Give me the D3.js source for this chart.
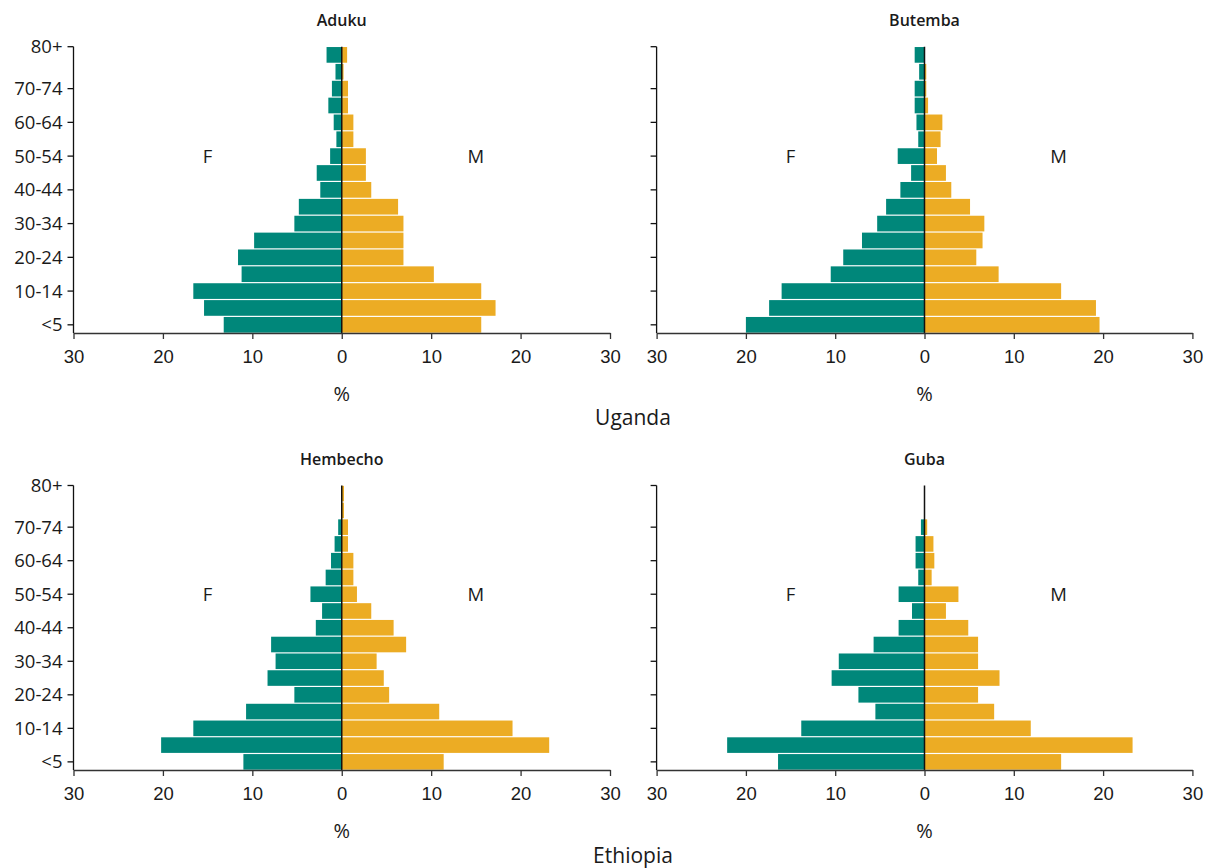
<!DOCTYPE html>
<html>
<head>
<meta charset="utf-8">
<script src="https://cdn.jsdelivr.net/npm/d3@7"></script>
<style>
  html, body { margin: 0; padding: 0; background: #fff; }
  svg { display: block; font-family: "Open Sans", "DejaVu Sans", sans-serif; }
</style>
</head>
<body>
<svg id="chart" width="1208" height="868"></svg>
<script>
// Age groups, bottom (<5) to top (80+)
const ages = ["<5","5-9","10-14","15-19","20-24","25-29","30-34","35-39","40-44","45-49","50-54","55-59","60-64","65-69","70-74","75-79","80+"];
const yTickLabels = ["<5","10-14","20-24","30-34","40-44","50-54","60-64","70-74","80+"];
const xTickValues = [-30,-20,-10,0,10,20,30];

// Percent of population, in age order <5 ... 80+
const adukuF    = [13.2,15.4,16.6,11.2,11.6,9.8,5.3,4.8,2.4,2.8,1.3,0.6,0.9,1.5,1.1,0.7,1.7];
const adukuM    = [15.6,17.2,15.6,10.3,6.9,6.9,6.9,6.3,3.3,2.7,2.7,1.3,1.3,0.7,0.7,0.2,0.6];
const butembaF  = [20.0,17.4,16.0,10.5,9.1,7.0,5.3,4.3,2.7,1.5,3.0,0.7,0.9,1.1,1.1,0.6,1.1];
const butembaM  = [19.6,19.2,15.3,8.3,5.8,6.5,6.7,5.1,3.0,2.4,1.4,1.8,2.0,0.4,0.2,0.2,0];
const hembechoF = [11.0,20.2,16.6,10.7,5.3,8.3,7.4,7.9,2.9,2.2,3.5,1.8,1.2,0.8,0.4,0,0];
const hembechoM = [11.4,23.2,19.1,10.9,5.3,4.7,3.9,7.2,5.8,3.3,1.7,1.3,1.3,0.7,0.7,0.25,0.25];
const gubaF     = [16.4,22.1,13.8,5.5,7.4,10.4,9.6,5.7,2.9,1.4,2.9,0.7,1.0,1.0,0.4,0,0];
const gubaM     = [15.3,23.3,11.9,7.8,6.0,8.4,6.0,6.0,4.9,2.4,3.8,0.8,1.1,1.0,0.3,0,0];

const panelTitles = ["Aduku","Butemba","Hembecho","Guba"];
const countries = ["Uganda","Ethiopia"];

const COLOR_F = "#00877a";
const COLOR_M = "#ecac24";
const TEXT = "#1a1a1a";

const svg = d3.select("#chart");

const panels = [
  { title: panelTitles[0], F: adukuF,    M: adukuM,    x0: 73.5,  x1: 610,    y0: 46.7,  y1: 333, labels: true },
  { title: panelTitles[1], F: butembaF,  M: butembaM,  x0: 656.6, x1: 1192.4, y0: 46.7,  y1: 333, labels: false },
  { title: panelTitles[2], F: hembechoF, M: hembechoM, x0: 73.5,  x1: 610,    y0: 485.5, y1: 770, labels: true },
  { title: panelTitles[3], F: gubaF,     M: gubaM,     x0: 656.6, x1: 1192.4, y0: 485.5, y1: 770, labels: false }
];

panels.forEach(p => {
  const g = svg.append("g");
  const x = d3.scaleLinear().domain([-30, 30]).range([p.x0, p.x1]);
  const y = d3.scaleBand().domain(ages.slice().reverse()).range([p.y0, p.y1]).paddingInner(0.07).paddingOuter(0.02);
  const bw = y.bandwidth();

  // bars
  const rows = ages.map((a, i) => ({ age: a, f: p.F[i], m: p.M[i] }));
  g.selectAll("rect.f").data(rows).join("rect")
    .attr("class", "f")
    .attr("x", d => x(-d.f))
    .attr("width", d => x(0) - x(-d.f))
    .attr("y", d => y(d.age))
    .attr("height", bw)
    .attr("fill", COLOR_F);
  g.selectAll("rect.m").data(rows).join("rect")
    .attr("class", "m")
    .attr("x", x(0))
    .attr("width", d => x(d.m) - x(0))
    .attr("y", d => y(d.age))
    .attr("height", bw)
    .attr("fill", COLOR_M);

  // zero line
  g.append("line")
    .attr("x1", x(0)).attr("x2", x(0))
    .attr("y1", p.y0).attr("y2", p.y1)
    .attr("stroke", "#111").attr("stroke-width", 1.5);

  // x axis
  const xAxis = d3.axisBottom(x).tickValues(xTickValues).tickFormat(d => Math.abs(d))
    .tickSize(6).tickSizeOuter(0).tickPadding(11);
  const xg = g.append("g").attr("transform", `translate(0,${p.y1})`).call(xAxis);
  xg.select(".domain").attr("stroke", "#333").attr("stroke-width", 1.3);
  xg.selectAll(".tick line").attr("stroke", "#333").attr("stroke-width", 1.3);
  xg.selectAll(".tick text").attr("fill", TEXT).style("font-size", "18.5px");

  // y axis
  g.append("line")
    .attr("x1", x(-30)).attr("x2", x(-30))
    .attr("y1", p.y0).attr("y2", p.y1)
    .attr("stroke", "#111").attr("stroke-width", 1.3);
  const tickY = a => a === "80+" ? y(a) - y.step() * y.paddingOuter() : y(a) + bw / 2;
  const yt = g.selectAll("g.ytick").data(yTickLabels).join("g")
    .attr("class", "ytick")
    .attr("transform", d => `translate(${x(-30)},${tickY(d)})`);
  yt.append("line").attr("x1", -6).attr("x2", 0).attr("stroke", "#111").attr("stroke-width", 1.3);
  if (p.labels) {
    yt.append("text")
      .attr("x", -11).attr("dy", "0.35em")
      .attr("text-anchor", "end")
      .attr("fill", TEXT)
      .style("font-size", "18.5px")
      .text(d => d);
  }

  // title
  g.append("text")
    .attr("x", x(0)).attr("y", p.y0 - 26).attr("dy", "0.35em")
    .attr("text-anchor", "middle")
    .attr("fill", TEXT)
    .style("font-size", "16px").style("font-weight", 600)
    .text(p.title);

  // F / M labels
  const ly = y("50-54") + bw / 2;
  g.append("text").attr("x", x(-15)).attr("y", ly).attr("dy", "0.35em")
    .attr("text-anchor", "middle").attr("fill", TEXT).style("font-size", "18.5px").text("F");
  g.append("text").attr("x", x(15)).attr("y", ly).attr("dy", "0.35em")
    .attr("text-anchor", "middle").attr("fill", TEXT).style("font-size", "18.5px").text("M");

  // % label
  g.append("text").attr("x", x(0)).attr("y", p.y1 + 61).attr("dy", "0.35em")
    .attr("text-anchor", "middle").attr("fill", TEXT).style("font-size", "20px").text("%");
});

// country labels
[[countries[0], 418], [countries[1], 856]].forEach(([t, cy]) => {
  svg.append("text").attr("x", 633).attr("y", cy).attr("dy", "0.35em")
    .attr("text-anchor", "middle").attr("fill", TEXT).style("font-size", "21px").text(t);
});
</script>
</body>
</html>
